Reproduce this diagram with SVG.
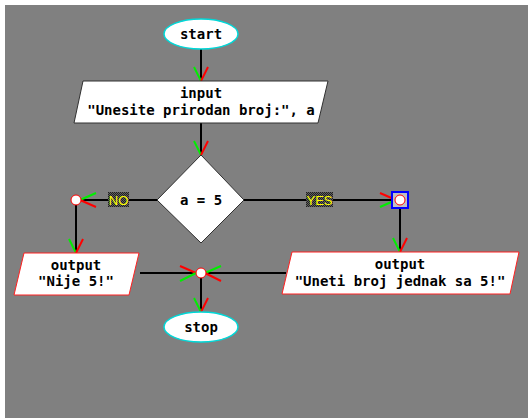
<svg xmlns="http://www.w3.org/2000/svg" width="528" height="418" viewBox="0 0 528 418">
<defs>
<pattern id="chk" width="2" height="2" patternUnits="userSpaceOnUse">
<rect width="2" height="2" fill="#606060"/>
<rect width="1" height="1" fill="#202020"/>
<rect x="1" y="1" width="1" height="1" fill="#202020"/>
</pattern>
</defs>
<style>
.t{font-family:"DejaVu Sans Mono","Liberation Mono",monospace;font-size:14px;font-weight:bold;fill:#000;text-anchor:middle}
.lbl{font-family:"Liberation Sans",Arial,sans-serif;font-size:13px;fill:#ffff00;text-anchor:middle}
.term{fill:#fff;stroke:#00d8d8;stroke-width:1.5}
.io{fill:#fff;stroke:#303030;stroke-width:1}
.out{fill:#fff;stroke:#ff2020;stroke-width:1}
.dec{fill:#fff;stroke:#303030;stroke-width:1}
.ln{stroke:#000;stroke-width:2;fill:none}
.g{stroke:#00ee00;stroke-width:2}
.r{stroke:#ff0000;stroke-width:2}
.jn{fill:#fff;stroke:#ff0000;stroke-width:1}
</style>
<rect x="5" y="5" width="523" height="413" fill="#808080"/>
<g id="connectors">
<line class="ln" x1="201" y1="49" x2="201" y2="81"/>
<line class="ln" x1="201" y1="123" x2="201" y2="155"/>
<line class="ln" x1="157" y1="200" x2="76" y2="200"/>
<line class="ln" x1="76" y1="200" x2="76" y2="253"/>
<line class="ln" x1="243" y1="200" x2="400" y2="200"/>
<line class="ln" x1="400" y1="200" x2="400" y2="252"/>
<line class="ln" x1="140" y1="273" x2="286" y2="273"/>
<line class="ln" x1="201" y1="273" x2="201" y2="312"/>
<line class="g" x1="194" y1="67" x2="201" y2="81"/><line class="r" x1="208" y1="67" x2="201" y2="81"/>
<line class="g" x1="194" y1="141" x2="201" y2="155"/><line class="r" x1="208" y1="141" x2="201" y2="155"/>
<line class="g" x1="96" y1="193" x2="80" y2="200"/><line class="r" x1="96" y1="207" x2="80" y2="200"/>
<line class="g" x1="69" y1="239" x2="76" y2="253"/><line class="r" x1="83" y1="239" x2="76" y2="253"/>
<line class="r" x1="380" y1="193" x2="396" y2="200"/><line class="g" x1="380" y1="207" x2="396" y2="200"/>
<line class="g" x1="393" y1="238" x2="400" y2="252"/><line class="r" x1="407" y1="238" x2="400" y2="252"/>
<line class="r" x1="180" y1="266" x2="196" y2="273"/><line class="g" x1="180" y1="281" x2="196" y2="273"/>
<line class="g" x1="221" y1="266" x2="205" y2="273"/><line class="r" x1="221" y1="281" x2="205" y2="273"/>
<line class="g" x1="194" y1="298" x2="201" y2="312"/><line class="r" x1="208" y1="298" x2="201" y2="312"/>
<rect x="108" y="192" width="21" height="15" fill="url(#chk)"/>
<text class="lbl" x="118.5" y="205">NO</text>
<rect x="306" y="192" width="27" height="15" fill="url(#chk)"/>
<text class="lbl" x="319.5" y="205">YES</text>
</g>
<g id="start">
<ellipse class="term" cx="201" cy="34" rx="37" ry="15"/>
<text class="t" x="201" y="39">start</text>
</g>
<g id="input">
<polygon class="io" points="83,81 328,81 318,123 74,123"/>
<text class="t" x="201" y="98">input</text>
<text class="t" x="201" y="115">"Unesite prirodan broj:", a</text>
</g>
<g id="decision">
<polygon class="dec" points="201,155 244,200 201,243 157,200"/>
<text class="t" x="201" y="205">a = 5</text>
</g>
<g id="junction-no">
<circle class="jn" cx="76" cy="200" r="5"/>
</g>
<g id="junction-yes">
<rect x="392" y="192" width="16" height="16" fill="#c0c0c0" stroke="#0000ff" stroke-width="2"/>
<circle class="jn" cx="400" cy="200" r="5"/>
</g>
<g id="output-no">
<polygon class="out" points="24,253 139,253 129,295 14,295"/>
<text class="t" x="76" y="270">output</text>
<text class="t" x="76" y="286">"Nije 5!"</text>
</g>
<g id="output-yes">
<polygon class="out" points="292,252 519,252 510,294 282,294"/>
<text class="t" x="400" y="269">output</text>
<text class="t" x="400" y="286">"Uneti broj jednak sa 5!"</text>
</g>
<g id="junction-merge">
<circle class="jn" cx="201" cy="273" r="5"/>
</g>
<g id="stop">
<ellipse class="term" cx="201" cy="327" rx="37" ry="15"/>
<text class="t" x="201" y="332">stop</text>
</g>
</svg>
